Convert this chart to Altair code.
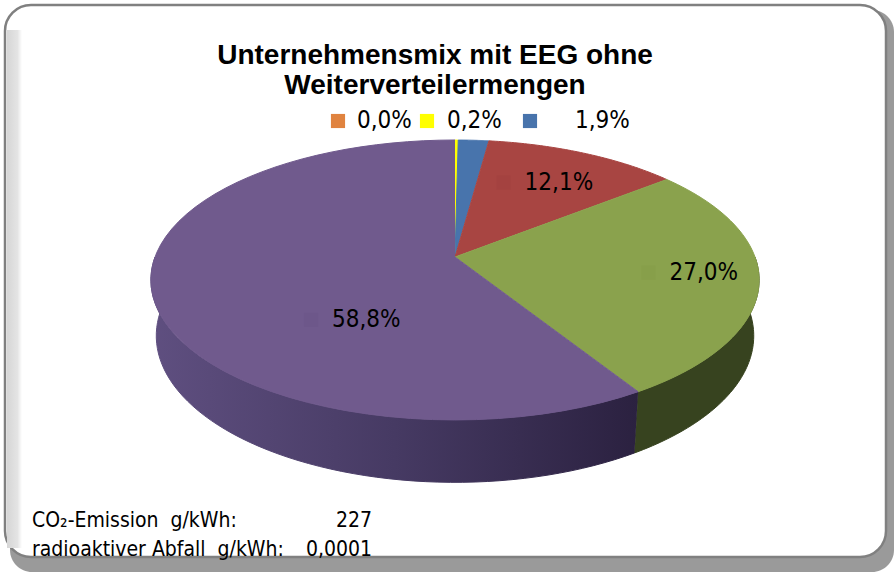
import altair as alt
import pandas as pd

# ---------------- data ----------------
categories = ["A", "B", "C", "D", "E", "F"]
values = [0.0, 0.2, 1.9, 12.1, 27.0, 58.8]
top_colors = ["#E0833F", "#FFFF00", "#4874AC", "#A84542", "#8AA24D", "#705A8D"]
side_colors = ["#7A4620", "#808000", "#24395A", "#5A2322", "#37431F", "#4A3C65"]
key_colors = ["#E0833F", "#FFFF00", "#4874AC", "#A44240", "#879F4A", "#6D578A"]
labels = [f"{v:.1f}".replace(".", ",") + "%" for v in values]

title_lines = ["Unternehmensmix mit EEG ohne", "Weiterverteilermengen"]
foot_labels = ["CO\u2082-Emission\u00a0 g/kWh:", "radioaktiver Abfall\u00a0 g/kWh:"]
foot_values = ["227", "0,0001"]

# ---------------- layout / style ----------------
W, H = 894, 572
CX, CY, RP = 455, 257, 300          # pie apex and radius (px)
SA, CA, DR, TH = 0.454, 0.891, 5.43, 0.21   # tilt sin/cos, camera distance, thickness
N = 60
LR = 0.75
label_dx = [0, 0, 0, -30, -12, 101]
label_dy = [0, 0, 0, 6, -2, 34]
NARROW = "'Liberation Sans Narrow', 'DejaVu Sans Condensed', sans-serif"

df = pd.DataFrame({
    "name": categories, "value": values, "idx": list(range(len(values))),
    "top": top_colors, "side": side_colors, "key": key_colors, "label": labels,
})

xs = alt.Scale(domain=[0, W], nice=False, zero=False)
ys = alt.Scale(domain=[0, H], nice=False, zero=False, reverse=True)


def project(ch):
    return (ch.transform_calculate(yp=f"datum.h*{CA} - datum.Z*{SA}")
              .transform_calculate(zp=f"datum.h*{SA} + datum.Z*{CA}")
              .transform_calculate(s=f"{DR}/({DR} - datum.zp)")
              .transform_calculate(sx=f"{CX} + {RP}*datum.s*datum.X")
              .transform_calculate(sy=f"{CY} - {RP}*datum.s*datum.yp"))


base = (alt.Chart(df)
        .transform_joinaggregate(total="sum(value)")
        .transform_window(cum="sum(value)", sort=[alt.SortField("idx", order="ascending")])
        .transform_calculate(f0="(datum.cum - datum.value)/datum.total")
        .transform_calculate(f1="datum.cum/datum.total"))

enc = dict(
    x=alt.X("sx:Q", scale=xs, axis=None),
    y=alt.Y("sy:Q", scale=ys, axis=None),
    detail="name:N",
    order="pts:Q",
)

# top faces
top = (base.transform_calculate(pts=f"sequence(0, {N + 2})")
       .transform_flatten(["pts"])
       .transform_calculate(rr="datum.pts == 0 ? 0 : 1")
       .transform_calculate(th=f"2*PI*(datum.f0 + (datum.f1 - datum.f0)*max(datum.pts - 1, 0)/{N})")
       .transform_calculate(X="datum.rr*sin(datum.th)")
       .transform_calculate(Z="-datum.rr*cos(datum.th)")
       .transform_calculate(h="0"))
top = project(top).mark_line(filled=True, strokeWidth=1).encode(
    fill=alt.Fill("top:N", scale=None), stroke=alt.Stroke("top:N", scale=None), **enc)

# visible side walls
grad = {"gradient": "linear", "x1": 0, "x2": 1, "y1": 0, "y2": 0,
        "stops": [{"offset": 0, "color": "#5F4F80"},
                  {"offset": 0.5, "color": "#463A63"},
                  {"offset": 1, "color": "#2B2140"}]}
side = (base.transform_calculate(a0="max(2*PI*datum.f0, PI/2)")
        .transform_calculate(a1="min(2*PI*datum.f1, 3*PI/2)")
        .transform_filter("datum.a1 > datum.a0")
        .transform_calculate(pts=f"sequence(0, {2 * N + 2})")
        .transform_flatten(["pts"])
        .transform_calculate(u=f"datum.pts <= {N} ? datum.pts/{N} : ({2 * N + 1} - datum.pts)/{N}")
        .transform_calculate(h=f"datum.pts <= {N} ? 0 : -{TH}")
        .transform_calculate(th="datum.a0 + (datum.a1 - datum.a0)*datum.u")
        .transform_calculate(X="sin(datum.th)")
        .transform_calculate(Z="-cos(datum.th)"))
side = project(side).mark_line(filled=True, strokeWidth=1).encode(
    fill=alt.condition("datum.name == 'F'", alt.value(grad), alt.Fill("side:N", scale=None)),
    stroke=alt.condition("datum.name == 'F'", alt.value(grad), alt.Stroke("side:N", scale=None)),
    **enc)

# labels of large slices
big = (base.transform_filter("datum.value >= 5")
       .transform_calculate(th="PI*(datum.f0 + datum.f1)")
       .transform_calculate(X=f"{LR}*sin(datum.th)")
       .transform_calculate(Z=f"-{LR}*cos(datum.th)")
       .transform_calculate(h="0"))
big = (project(big)
       .transform_calculate(tx=f"datum.sx + {label_dx}[datum.idx]")
       .transform_calculate(ty=f"datum.sy + {label_dy}[datum.idx]")
       .transform_calculate(kx="datum.tx - 21"))
big_text = big.mark_text(font=NARROW, fontSize=24, align="left", baseline="middle", color="#000000").encode(
    x=alt.X("tx:Q", scale=xs, axis=None), y=alt.Y("ty:Q", scale=ys, axis=None), text="label:N")
big_key = big.mark_square(size=200, opacity=1, strokeWidth=0).encode(
    x=alt.X("kx:Q", scale=xs, axis=None), y=alt.Y("ty:Q", scale=ys, axis=None),
    color=alt.Color("key:N", scale=None))

# labels of small slices (row above the pie)
small = (base.transform_filter("datum.value < 5")
         .transform_calculate(kx="[338, 427, 530][datum.idx]")
         .transform_calculate(tx="[357, 447, 575][datum.idx]")
         .transform_calculate(ty="121"))
small_text = small.mark_text(font=NARROW, fontSize=24, align="left", baseline="middle", color="#000000").encode(
    x=alt.X("tx:Q", scale=xs, axis=None), y=alt.Y("ty:Q", scale=ys, axis=None), text="label:N")
small_key = small.mark_square(size=200, opacity=1, strokeWidth=0).encode(
    x=alt.X("kx:Q", scale=xs, axis=None), y=alt.Y("ty:Q", scale=ys, axis=None),
    color=alt.Color("key:N", scale=None))

# frame
one = pd.DataFrame({"a": [0]})
shadow = alt.Chart(one).mark_rect(cornerRadius=22, fill="#9A9A9A").encode(
    x=alt.value(10), x2=alt.value(894), y=alt.value(10), y2=alt.value(572))
panel = alt.Chart(one).mark_rect(cornerRadius=26, fill="#FFFFFF", stroke="#808080", strokeWidth=2.5).encode(
    x=alt.value(5), x2=alt.value(886), y=alt.value(5), y2=alt.value(557))
inner = alt.Chart(one).mark_rect(
    fill={"gradient": "linear", "x1": 0, "x2": 1, "y1": 0, "y2": 0,
          "stops": [{"offset": 0, "color": "#D6D6D6"}, {"offset": 0.7, "color": "#E4E4E4"},
                    {"offset": 1, "color": "#FFFFFF"}]}).encode(
    x=alt.value(7), x2=alt.value(22), y=alt.value(30), y2=alt.value(548))

# title
tdf = pd.DataFrame({"line": title_lines, "row": list(range(len(title_lines)))})
title = (alt.Chart(tdf).transform_calculate(ty="64 + datum.row*30")
         .mark_text(font="Liberation Sans", fontWeight="bold", fontSize=28, align="center",
                    baseline="alphabetic", color="#000000")
         .encode(x=alt.value(435), y=alt.Y("ty:Q", scale=ys, axis=None), text="line:N"))

# footnotes
fdf = pd.DataFrame({"lab": foot_labels, "val": foot_values, "row": list(range(len(foot_labels)))})
fbase = alt.Chart(fdf).transform_calculate(ty="527 + datum.row*29")
foot_l = fbase.mark_text(font=NARROW, fontSize=21, align="left", baseline="alphabetic", color="#000000").encode(
    x=alt.value(32), y=alt.Y("ty:Q", scale=ys, axis=None), text="lab:N")
foot_v = fbase.mark_text(font=NARROW, fontSize=21, align="right", baseline="alphabetic", color="#000000").encode(
    x=alt.value(372), y=alt.Y("ty:Q", scale=ys, axis=None), text="val:N")

chart = alt.layer(
    shadow, panel, inner, side, top, big_key, big_text, small_key, small_text, title, foot_l, foot_v
).properties(width=W, height=H, padding=0, autosize="none").configure_view(stroke=None)

chart.save("out.html", embed_options={"renderer": "svg", "actions": False})
